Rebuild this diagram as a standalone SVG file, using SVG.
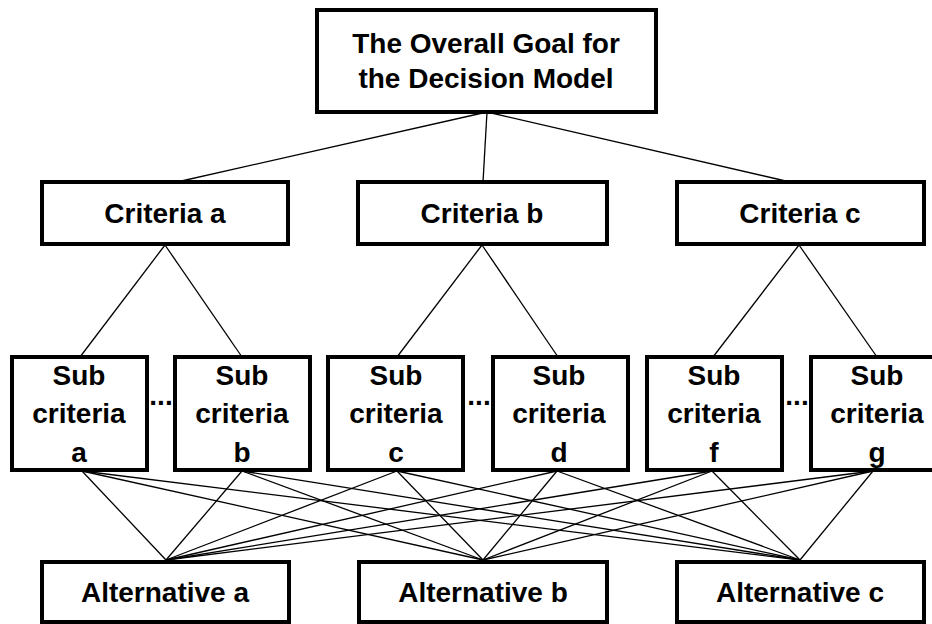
<svg xmlns="http://www.w3.org/2000/svg" width="932" height="624" viewBox="0 0 932 624">
<style>
.box{fill:#fff;stroke:#000;stroke-width:4}
.t{font-family:"Liberation Sans",Arial,sans-serif;font-weight:bold;font-size:28px;text-anchor:middle;fill:#000}
.c line{stroke:#000;stroke-width:1.3}
</style>
<rect width="932" height="624" fill="#fff"/>
<g class="c" id="connectors">
<line x1="487" y1="112" x2="177" y2="182"/>
<line x1="487" y1="112" x2="483" y2="182"/>
<line x1="487" y1="112" x2="790" y2="182"/>
<line x1="165" y1="245" x2="80" y2="357"/>
<line x1="165" y1="245" x2="242" y2="357"/>
<line x1="482" y1="245" x2="397" y2="357"/>
<line x1="482" y1="245" x2="558" y2="357"/>
<line x1="799" y1="245" x2="713" y2="357"/>
<line x1="799" y1="245" x2="877" y2="357"/>
<line x1="82" y1="471" x2="166" y2="560"/><line x1="82" y1="471" x2="483" y2="560"/><line x1="82" y1="471" x2="800" y2="560"/>
<line x1="242" y1="471" x2="166" y2="560"/><line x1="242" y1="471" x2="483" y2="560"/><line x1="242" y1="471" x2="800" y2="560"/>
<line x1="397" y1="471" x2="166" y2="560"/><line x1="397" y1="471" x2="483" y2="560"/><line x1="397" y1="471" x2="800" y2="560"/>
<line x1="557" y1="471" x2="166" y2="560"/><line x1="557" y1="471" x2="483" y2="560"/><line x1="557" y1="471" x2="800" y2="560"/>
<line x1="712" y1="471" x2="166" y2="560"/><line x1="712" y1="471" x2="483" y2="560"/><line x1="712" y1="471" x2="800" y2="560"/>
<line x1="873" y1="471" x2="166" y2="560"/><line x1="873" y1="471" x2="483" y2="560"/><line x1="873" y1="471" x2="800" y2="560"/>
</g>
<g id="goal"><rect class="box" x="317" y="10" width="339" height="102"/>
<text class="t" x="486" y="53">The Overall Goal for</text><text class="t" x="486" y="88">the Decision Model</text></g>
<g id="criteria-a"><rect class="box" x="42" y="182" width="246" height="62"/><text class="t" x="165" y="223">Criteria a</text></g>
<g id="criteria-b"><rect class="box" x="358" y="182" width="249" height="62"/><text class="t" x="482" y="223">Criteria b</text></g>
<g id="criteria-c"><rect class="box" x="677" y="182" width="247" height="62"/><text class="t" x="800" y="223">Criteria c</text></g>
<g id="sub-a"><rect class="box" x="12" y="357" width="135" height="113"/><text class="t" x="79" y="385">Sub</text><text class="t" x="79" y="423">criteria</text><text class="t" x="79" y="462">a</text></g>
<g id="sub-b"><rect class="box" x="175" y="357" width="135" height="113"/><text class="t" x="242" y="385">Sub</text><text class="t" x="242" y="423">criteria</text><text class="t" x="242" y="462">b</text></g>
<g id="sub-c"><rect class="box" x="328" y="357" width="135" height="113"/><text class="t" x="396" y="385">Sub</text><text class="t" x="396" y="423">criteria</text><text class="t" x="396" y="462">c</text></g>
<g id="sub-d"><rect class="box" x="493" y="357" width="135" height="113"/><text class="t" x="559" y="385">Sub</text><text class="t" x="559" y="423">criteria</text><text class="t" x="559" y="462">d</text></g>
<g id="sub-f"><rect class="box" x="647" y="357" width="135" height="113"/><text class="t" x="714" y="385">Sub</text><text class="t" x="714" y="423">criteria</text><text class="t" x="714" y="462">f</text></g>
<g id="sub-g"><rect class="box" x="811" y="357" width="135" height="113"/><text class="t" x="877" y="385">Sub</text><text class="t" x="877" y="423">criteria</text><text class="t" x="877" y="462">g</text></g>
<g id="dots"><text class="t" x="161" y="405">...</text><text class="t" x="479" y="405">...</text><text class="t" x="797" y="405">...</text></g>
<g id="alt-a"><rect class="box" x="42" y="562" width="247" height="60"/><text class="t" x="165" y="602">Alternative a</text></g>
<g id="alt-b"><rect class="box" x="359" y="562" width="248" height="60"/><text class="t" x="483" y="602">Alternative b</text></g>
<g id="alt-c"><rect class="box" x="677" y="562" width="247" height="60"/><text class="t" x="800" y="602">Alternative c</text></g>
</svg>
